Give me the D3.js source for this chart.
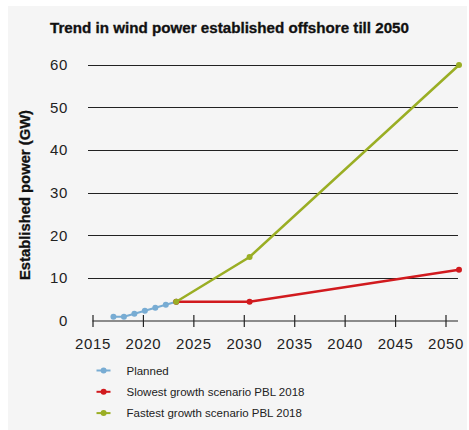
<!DOCTYPE html>
<html><head><meta charset="utf-8">
<script src="https://cdn.jsdelivr.net/npm/d3@7"></script>
<style>body{margin:0;background:#fff;}svg{display:block;}</style>
</head><body>
<script>
// Data
const plannedYears = [2017, 2018, 2019, 2020, 2021, 2022, 2023];
const plannedValues = [1.0, 1.0, 1.7, 2.4, 3.1, 3.8, 4.5];
const slowYears = [2023, 2030, 2050];
const slowValues = [4.5, 4.5, 12];
const fastYears = [2023, 2030, 2050];
const fastValues = [4.5, 15, 60];
const xTicks = [2015, 2020, 2025, 2030, 2035, 2040, 2045, 2050];
const yTicks = [0, 10, 20, 30, 40, 50, 60];
const seriesNames = ["Planned", "Slowest growth scenario PBL 2018", "Fastest growth scenario PBL 2018"];
const colors = ["#78acd3", "#d11a1e", "#9aae24"];
const titleText = "Trend in wind power established offshore till 2050";
const yLabel = "Established power (GW)";

const W = 469, H = 430;
const svg = d3.select("body").append("svg").attr("width", W).attr("height", H);
svg.append("rect").attr("x", 8).attr("y", 6).attr("width", 459).attr("height", 424).attr("fill", "#f5f5f5");

const font = "'Liberation Sans', Arial, sans-serif";
const y = d3.scaleLinear().domain([0, 60]).range([321, 65]);
const xData = d3.scaleLinear().domain([2015, 2050]).range([92.5, 459]);
const xAxisS = d3.scaleLinear().domain([2015, 2050]).range([92.5, 445.5]);

svg.append("text").attr("x", 50).attr("y", 33).text(titleText)
  .attr("font-family", font).attr("font-weight", "bold").attr("font-size", 14).attr("fill", "#111")
  .attr("stroke", "#111").attr("stroke-width", 0.3)
  .attr("textLength", 359).attr("lengthAdjust", "spacingAndGlyphs");

// gridlines
svg.append("g").selectAll("line").data(yTicks.filter(d => d > 0)).join("line")
  .attr("x1", 88).attr("x2", 458).attr("y1", d => y(d)).attr("y2", d => y(d))
  .attr("stroke", "#222").attr("stroke-width", 1).attr("shape-rendering", "crispEdges");

// y tick labels
svg.append("g").selectAll("text").data(yTicks).join("text")
  .attr("x", 68).attr("y", d => y(d) + 5).attr("text-anchor", "end").text(d => d)
  .attr("font-family", font).attr("font-size", 15).attr("letter-spacing", 0.6).attr("fill", "#222");

// x axis
const xAxis = d3.axisBottom(xAxisS).tickValues(xTicks).tickFormat(d3.format("d")).tickSize(0);
const gx = svg.append("g").attr("transform", "translate(0,321)").call(xAxis);
gx.select(".domain").remove();
gx.append("line").attr("x1", 92.5).attr("x2", 458).attr("y1", 0).attr("y2", 0).attr("stroke", "#222").attr("stroke-width", 1.2);
gx.selectAll(".tick").append("line").attr("y1", -6).attr("y2", 6).attr("stroke", "#222").attr("stroke-width", 1.2);
gx.selectAll(".tick text").attr("dy", 0).attr("y", 28).attr("font-family", font).attr("font-size", 15).attr("letter-spacing", 0.6).attr("fill", "#222");

// y label
svg.append("text").attr("transform", "translate(30,195) rotate(-90)").attr("text-anchor", "middle").text(yLabel)
  .attr("font-family", font).attr("font-weight", "bold").attr("font-size", 14.5).attr("fill", "#111")
  .attr("stroke", "#111").attr("stroke-width", 0.3)
  .attr("textLength", 170).attr("lengthAdjust", "spacingAndGlyphs");

const line = d3.line().x(d => xData(d[0])).y(d => y(d[1]));
const series = [
  d3.zip(plannedYears, plannedValues),
  d3.zip(slowYears, slowValues),
  d3.zip(fastYears, fastValues)
];
const widths = [2, 2.5, 2.5];
series.forEach((s, i) => {
  svg.append("path").datum(s).attr("d", line).attr("fill", "none").attr("stroke", colors[i]).attr("stroke-width", widths[i]);
  svg.append("g").selectAll("circle").data(s).join("circle")
    .attr("cx", d => xData(d[0])).attr("cy", d => y(d[1])).attr("r", 3).attr("fill", colors[i]);
});

// legend
const lg = svg.append("g").selectAll("g").data(seriesNames).join("g")
  .attr("transform", (d, i) => `translate(0,${370.5 + i * 21.3})`);
lg.append("line").attr("x1", 96.5).attr("x2", 110.5).attr("stroke", (d, i) => colors[i]).attr("stroke-width", 2);
lg.append("circle").attr("cx", 103.6).attr("r", 3).attr("fill", (d, i) => colors[i]);
lg.append("text").attr("x", 126.5).attr("y", 4).text(d => d)
  .attr("font-family", font).attr("font-size", 11.5).attr("fill", "#222");
</script>
</body></html>
